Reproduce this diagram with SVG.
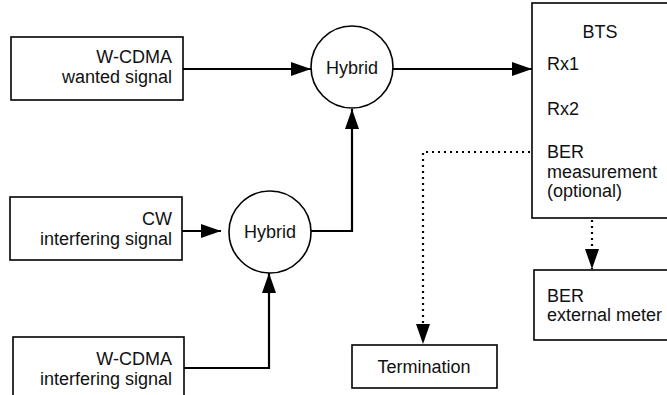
<svg xmlns="http://www.w3.org/2000/svg" width="667" height="395" viewBox="0 0 667 395">
<style>
.box{fill:#fff;stroke:#000;stroke-width:1.6}
.c{fill:none;stroke:#000;stroke-width:2.2}
.d{fill:none;stroke:#000;stroke-width:2.2;stroke-dasharray:2 4}
text{font-family:"Liberation Sans",Arial,sans-serif;font-size:18px;fill:#111}
.r{text-anchor:end}
.m{text-anchor:middle}
</style>
<defs>
<marker id="ah" markerUnits="userSpaceOnUse" markerWidth="20" markerHeight="14" refX="20" refY="7" orient="auto">
<path d="M0,0 L20,7 L0,14 Z" fill="#000"/>
</marker>
</defs>
<g id="connectors">
<line class="c" x1="183" y1="69" x2="311" y2="69" marker-end="url(#ah)"/>
<line class="c" x1="393" y1="69" x2="532" y2="69" marker-end="url(#ah)"/>
<line class="c" x1="182" y1="231" x2="221" y2="231" marker-end="url(#ah)"/>
<polyline class="c" points="311,231 352,231 352,109" marker-end="url(#ah)"/>
<polyline class="c" points="184,368 269,368 269,273" marker-end="url(#ah)"/>
<polyline class="d" points="530,152 423,152 423,344" marker-end="url(#ah)"/>
<line class="d" x1="592" y1="220" x2="592" y2="269" marker-end="url(#ah)"/>
</g>
<g id="wcdma-wanted">
<rect class="box" x="11" y="37" width="172" height="63"/>
<text class="r" x="172" y="63">W-CDMA</text>
<text class="r" x="172" y="83">wanted signal</text>
</g>
<g id="hybrid1">
<circle class="box" cx="352" cy="67" r="41"/>
<text class="m" x="352" y="74">Hybrid</text>
</g>
<g id="bts">
<rect class="box" x="532" y="3" width="140" height="215"/>
<text class="m" x="600" y="38">BTS</text>
<text x="547" y="70">Rx1</text>
<text x="547" y="115">Rx2</text>
<text x="547" y="158">BER</text>
<text x="547" y="178">measurement</text>
<text x="547" y="197">(optional)</text>
</g>
<g id="cw">
<rect class="box" x="10" y="197" width="172" height="63"/>
<text class="r" x="172" y="225">CW</text>
<text class="r" x="172" y="245">interfering signal</text>
</g>
<g id="hybrid2">
<circle class="box" cx="270" cy="232" r="41"/>
<text class="m" x="270" y="238">Hybrid</text>
</g>
<g id="wcdma-interfering">
<rect class="box" x="13" y="337" width="171" height="70"/>
<text class="r" x="172" y="365">W-CDMA</text>
<text class="r" x="172" y="385">interfering signal</text>
</g>
<g id="termination">
<rect class="box" x="352" y="345" width="145" height="43"/>
<text class="m" x="424" y="373">Termination</text>
</g>
<g id="ber-meter">
<rect class="box" x="534" y="270" width="140" height="70"/>
<text x="547" y="302">BER</text>
<text x="547" y="321">external meter</text>
</g>
</svg>
